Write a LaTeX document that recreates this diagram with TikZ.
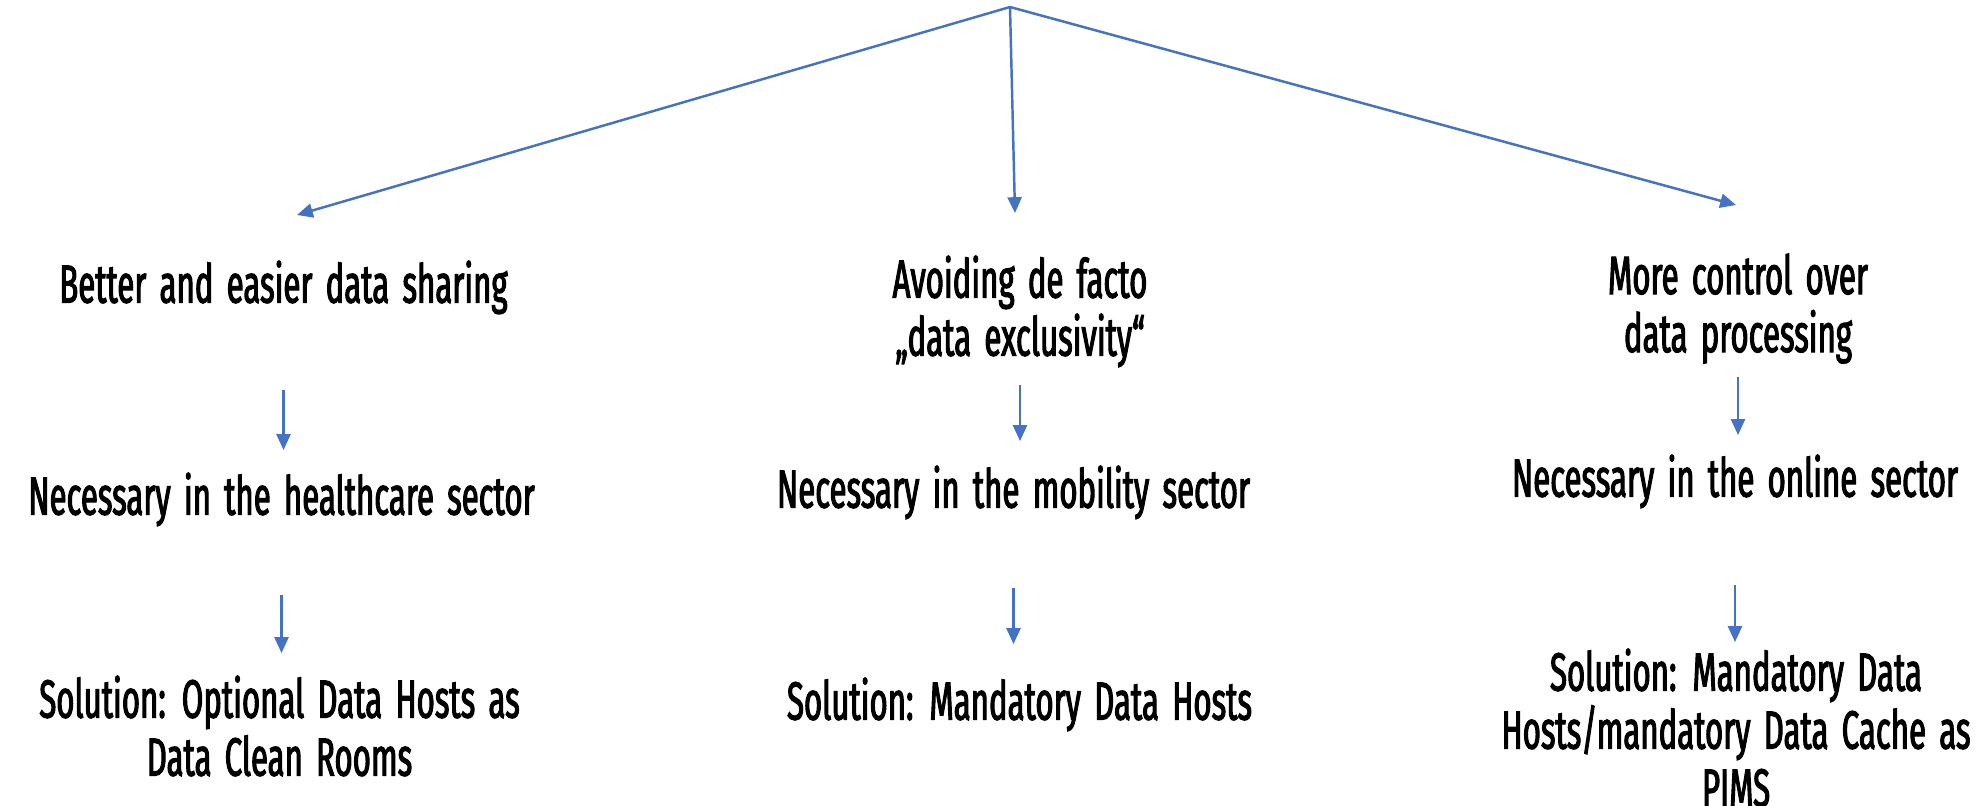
\documentclass[tikz,border=0pt]{standalone}
\usepackage{fontspec}
\setmainfont[FakeStretch=0.58,WordSpace=1.6,FakeBold=2]{Fira Sans}
\usetikzlibrary{arrows.meta}

\definecolor{officeblue}{HTML}{4472C4}

\tikzset{
    txt/.style={inner sep=0pt, anchor=north, align=center, font=\fontsize{15.3}{16.5}\selectfont},
    arr/.style={draw=officeblue, line width=0.6pt, -{Triangle[length=4.5pt, width=4pt]}, officeblue}
}

\begin{document}
\begin{tikzpicture}
    \useasboundingbox (0,0) rectangle (19.88,-8.05);

    \coordinate (root) at (10.10,-0.07);
    \coordinate (tipL) at (2.97,-2.15);
    \coordinate (tipM) at (10.15,-2.13);
    \coordinate (tipR) at (17.36,-2.05);

    % left column
    \node[txt] (better) at (2.835,-2.60) {Better and easier data sharing};
    \node[txt] (necL) at (2.815,-4.72) {Necessary in the healthcare sector};
    \node[txt] (solL) at (2.795,-6.75) {Solution: Optional Data Hosts as\\Data Clean Rooms};

    % middle column
    \node[txt] (avoid) at (10.20,-2.55) {Avoiding de facto\\„data exclusivity“};
    \node[txt] (necM) at (10.135,-4.65) {Necessary in the mobility sector};
    \node[txt] (solM) at (10.195,-6.77) {Solution: Mandatory Data Hosts};

    % right column
    \node[txt] (ctrl) at (17.38,-2.53) {More control over\\data processing};
    \node[txt] (necR) at (17.35,-4.54) {Necessary in the online sector};
    \node[txt] (solR) at (17.36,-6.48) {Solution: Mandatory Data\\Hosts/mandatory Data Cache as\\PIMS};

    \draw[arr, line width=0.7pt] (root) -- (tipL);
    \draw[arr, line width=0.7pt] (root) -- (tipM);
    \draw[arr, line width=0.7pt] (root) -- (tipR);

    \draw[arr, shorten <=0.75cm, shorten >=0.22cm] (better.south) -- (better.south |- necL.north);
    \draw[arr, shorten <=0.68cm, shorten >=0.22cm] (necL.south) -- (necL.south |- solL.north);
    \draw[arr, shorten <=0.17cm, shorten >=0.24cm] (avoid.south) -- (avoid.south |- necM.north);
    \draw[arr, shorten <=0.68cm, shorten >=0.33cm] (necM.south) -- (necM.south |- solM.north);
    \draw[arr, shorten <=0.13cm, shorten >=0.19cm] (ctrl.south) -- (ctrl.south |- necR.north);
    \draw[arr, shorten <=0.76cm, shorten >=0.06cm] (necR.south) -- (necR.south |- solR.north);
\end{tikzpicture}
\end{document}
